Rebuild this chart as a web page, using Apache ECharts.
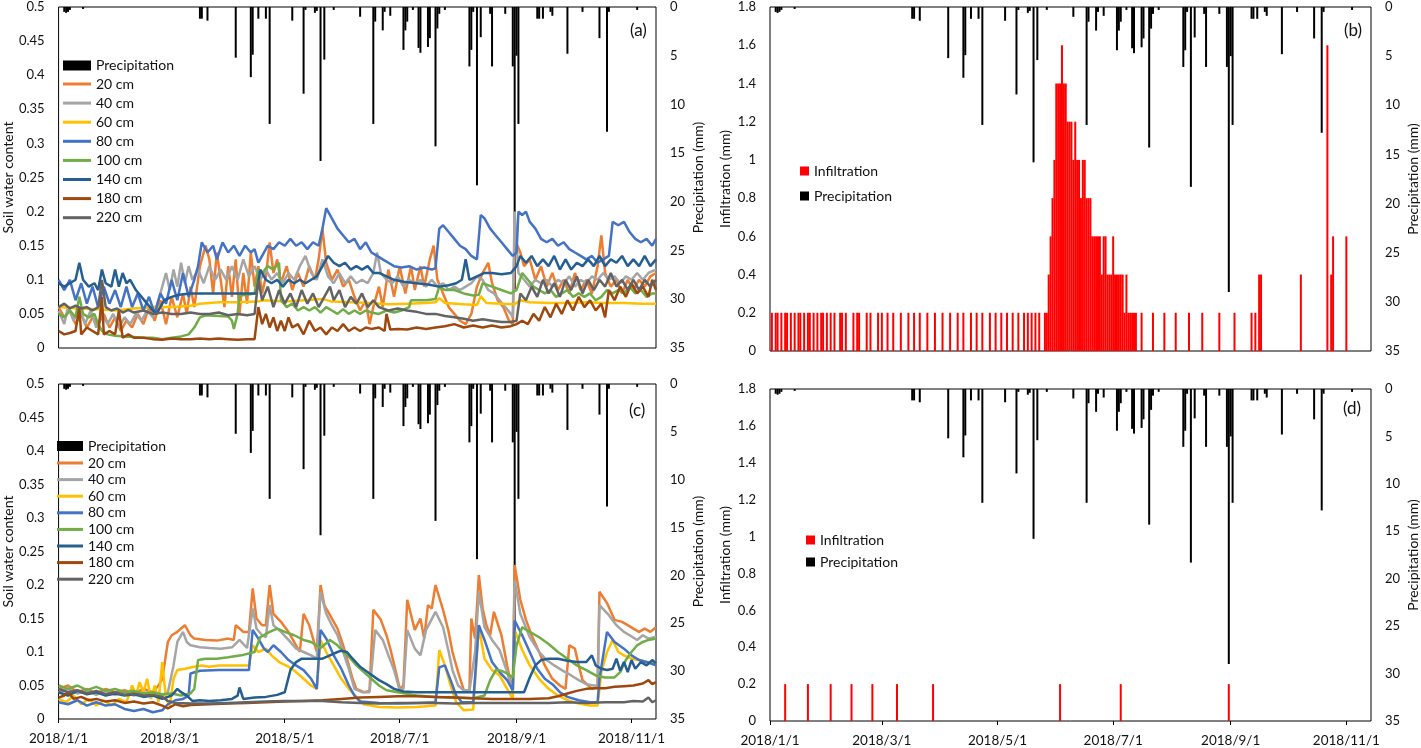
<!DOCTYPE html>
<html>
<head>
<meta charset="utf-8">
<script src="https://cdn.jsdelivr.net/npm/echarts@6/dist/echarts.min.js"></script>
<style>
  html, body { margin: 0; padding: 0; background: #fff; }
  #main { width: 1421px; height: 748px; }
</style>
</head>
<body>
<div id="main"></div>
<script type="text/javascript">
    // daily axis 2018/1/1 .. 2018/11/14
    var dates = [];
    for (var i = 0; i < 318; i++) {
        var d = new Date(2018, 0, 1 + i);
        dates.push(d.getFullYear() + '/' + (d.getMonth() + 1) + '/' + d.getDate());
    }
    var labelDays = ['2018/1/1', '2018/3/1', '2018/5/1', '2018/7/1', '2018/9/1', '2018/11/1'];

    var depthNames = ['20 cm', '40 cm', '60 cm', '80 cm', '100 cm', '140 cm', '180 cm', '220 cm'];
    var depthColors = ['#ED7D31', '#A5A5A5', '#FFC000', '#4472C4', '#70AD47', '#255E91', '#9E480E', '#636363'];

    // precipitation [day, mm]
    var precip = [[3,0.5],[4,0.6],[5,0.5],[6,0.3],[13,0.2],[75,1.2],[76,1.2],[79,1.4],[94,5.2],[102,7.2],[103,4.9],
        [106,1.2],[110,1.2],[112,12],[124,1.4],[130,8.9],[131,0.3],[136,0.6],[137,0.4],[139,15.8],[141,5.4],[146,0.3],
        [160,1.0],[167,12],[168,1.5],[172,2.4],[173,0.5],[176,0.9],[183,4.4],[184,2.4],[185,1.5],[188,0.3],[191,4.2],
        [192,4.7],[196,4.1],[197,3.2],[200,14.3],[201,2.2],[202,0.7],[205,0.3],[218,6.1],[219,4.4],[220,0.5],[222,18.3],
        [224,3.1],[229,0.7],[230,6.1],[237,0.7],[241,6.1],[242,29],[243,5.0],[244,12],[254,1.2],[255,1.2],[257,1.2],
        [261,0.5],[262,0.9],[270,4.8],[278,0.5],[287,3.2],[291,12.8],[292,0.5],[307,0.3]];

    // infiltration (b) [day, mm]
    var infilB = [[1,0.2],[3,0.2],[4,0.2],[6,0.2],[8,0.2],[9,0.2],[11,0.2],[13,0.2],[15,0.2],[16,0.2],[18,0.2],[20,0.2],
        [21,0.2],[23,0.2],[25,0.2],[27,0.2],[28,0.2],[30,0.2],[32,0.2],[34,0.2],[37,0.2],[38,0.2],[40,0.2],[44,0.2],
        [46,0.2],[47,0.2],[51,0.2],[53,0.2],[57,0.2],[59,0.2],[62,0.2],[65,0.2],[69,0.2],[73,0.2],[76,0.2],[79,0.2],
        [83,0.2],[87,0.2],[91,0.2],[95,0.2],[99,0.2],[102,0.2],[106,0.2],[109,0.2],[112,0.2],[116,0.2],[119,0.2],
        [122,0.2],[125,0.2],[128,0.2],[131,0.2],[134,0.2],[136,0.2],[138,0.2],[140,0.2],[142,0.2],[145,0.2],
        [146,0.2],[147,0.4],[148,0.6],[149,0.8],[150,1.0],[151,1.4],[152,1.4],[153,1.4],[154,1.6],[155,1.4],[156,1.4],
        [157,1.2],[158,1.2],[159,1.2],[160,1.0],[161,1.2],[162,1.0],[163,1.0],[164,0.8],[165,1.0],[166,1.0],[167,0.8],
        [168,0.8],[169,0.8],[170,0.6],[171,0.6],[172,0.6],[173,0.6],[174,0.6],[175,0.4],[176,0.6],[177,0.6],[178,0.4],
        [179,0.4],[180,0.4],[181,0.6],[182,0.4],[183,0.4],[184,0.4],[185,0.4],[186,0.4],[187,0.2],[188,0.4],[189,0.2],
        [190,0.2],[191,0.2],[192,0.2],[193,0.2],[196,0.2],[202,0.2],[208,0.2],[214,0.2],[221,0.2],[228,0.2],[237,0.2],
        [245,0.2],[254,0.2],[256,0.2],[258,0.4],[259,0.4],[280,0.4],[294,1.6],[296,0.4],[297,0.6],[304,0.6]];

    // infiltration (d) [day, mm]
    var infilD = [[8,0.2],[20,0.2],[32,0.2],[43,0.2],[54,0.2],[67,0.2],[86,0.2],[153,0.2],[185,0.2],[242,0.2]];

    // soil water content, panel (a) [day, value]
    var swA20 = [[0,0.06],[3,0.045],[6,0.055],[9,0.035],[12,0.05],[15,0.03],[18,0.045],[21,0.035],[24,0.05],[27,0.03],
        [30,0.045],[33,0.025],[36,0.04],[39,0.03],[42,0.05],[45,0.035],[48,0.06],[51,0.04],[54,0.07],[57,0.035],[60,0.075],
        [63,0.045],[66,0.08],[68,0.05],[70,0.09],[72,0.06],[75,0.12],[78,0.15],[80,0.13],[82,0.08],[84,0.14],[86,0.1],
        [88,0.06],[90,0.12],[92,0.075],[94,0.13],[96,0.05],[98,0.11],[100,0.065],[102,0.14],[104,0.09],[106,0.12],[108,0.08],
        [110,0.105],[112,0.155],[114,0.11],[116,0.13],[118,0.095],[121,0.12],[124,0.085],[127,0.11],[130,0.09],[133,0.12],
        [136,0.1],[138,0.13],[140,0.175],[142,0.125],[145,0.1],[148,0.115],[151,0.09],[154,0.1],[157,0.075],[160,0.055],
        [163,0.07],[165,0.035],[167,0.06],[170,0.09],[172,0.06],[175,0.115],[178,0.075],[181,0.12],[184,0.08],[187,0.12],
        [189,0.085],[192,0.12],[194,0.09],[197,0.13],[199,0.15],[201,0.1],[204,0.08],[207,0.06],[210,0.05],[213,0.04],
        [216,0.035],[219,0.05],[222,0.09],[225,0.11],[228,0.125],[230,0.095],[233,0.07],[236,0.06],[239,0.04],[241,0.035],
        [242,0.16],[245,0.14],[247,0.12],[250,0.13],[253,0.1],[256,0.12],[259,0.09],[262,0.11],[265,0.085],[268,0.1],
        [271,0.08],[274,0.11],[277,0.085],[280,0.1],[283,0.08],[286,0.12],[288,0.165],[290,0.11],[293,0.09],[296,0.1],
        [299,0.08],[302,0.1],[305,0.085],[308,0.1],[311,0.09],[314,0.105],[317,0.11]];
    var swA40 = [[0,0.055],[3,0.035],[5,0.06],[8,0.04],[11,0.06],[14,0.035],[17,0.055],[20,0.03],[23,0.05],[26,0.035],
        [29,0.05],[32,0.03],[35,0.045],[38,0.035],[41,0.05],[44,0.04],[47,0.055],[50,0.045],[53,0.07],[55,0.09],[57,0.11],
        [59,0.085],[61,0.115],[63,0.09],[65,0.125],[67,0.095],[69,0.12],[71,0.1],[74,0.115],[77,0.095],[80,0.12],[83,0.1],
        [86,0.115],[89,0.1],[92,0.12],[95,0.1],[98,0.13],[101,0.105],[104,0.12],[107,0.1],[110,0.115],[113,0.1],[116,0.11],
        [119,0.095],[122,0.11],[125,0.1],[128,0.12],[131,0.135],[134,0.11],[137,0.1],[140,0.13],[143,0.105],[146,0.095],
        [149,0.11],[152,0.095],[155,0.105],[158,0.095],[161,0.1],[164,0.095],[167,0.11],[169,0.14],[171,0.11],[174,0.1],
        [177,0.095],[180,0.105],[183,0.09],[186,0.1],[189,0.095],[192,0.1],[195,0.09],[198,0.1],[201,0.09],[204,0.095],
        [207,0.085],[210,0.09],[213,0.085],[216,0.09],[219,0.095],[222,0.105],[225,0.1],[228,0.085],[231,0.08],[234,0.07],
        [237,0.06],[240,0.05],[241,0.045],[242,0.2],[244,0.11],[247,0.1],[250,0.09],[253,0.1],[256,0.095],[259,0.1],
        [262,0.09],[265,0.1],[268,0.095],[271,0.105],[274,0.09],[277,0.1],[280,0.095],[283,0.105],[286,0.1],[289,0.11],
        [292,0.1],[295,0.105],[298,0.095],[301,0.105],[304,0.1],[307,0.11],[310,0.1],[313,0.11],[317,0.115]];
    var swA60 = [[0,0.06],[10,0.058],[20,0.057],[30,0.055],[40,0.058],[50,0.06],[60,0.06],[70,0.062],[75,0.065],[85,0.067],
        [95,0.067],[105,0.068],[110,0.07],[120,0.068],[130,0.07],[140,0.072],[145,0.068],[155,0.067],[165,0.066],[175,0.064],
        [185,0.065],[195,0.066],[200,0.067],[202,0.073],[205,0.066],[215,0.064],[222,0.063],[224,0.076],[227,0.066],
        [235,0.065],[242,0.064],[245,0.07],[250,0.067],[260,0.066],[270,0.066],[280,0.067],[290,0.066],[300,0.066],
        [310,0.065],[317,0.065]];
    var swA80 = [[0,0.1],[3,0.085],[6,0.1],[9,0.07],[12,0.095],[15,0.065],[18,0.09],[21,0.06],[24,0.09],[27,0.065],
        [30,0.085],[33,0.06],[36,0.09],[39,0.06],[42,0.08],[45,0.055],[48,0.075],[51,0.05],[54,0.08],[57,0.065],[60,0.1],
        [63,0.07],[66,0.11],[69,0.075],[72,0.1],[74,0.12],[76,0.155],[79,0.14],[82,0.15],[84,0.13],[87,0.155],[90,0.14],
        [93,0.15],[96,0.135],[99,0.15],[102,0.14],[104,0.145],[106,0.125],[108,0.135],[111,0.15],[114,0.145],[117,0.155],
        [120,0.15],[123,0.16],[126,0.15],[129,0.155],[132,0.145],[135,0.155],[138,0.15],[140,0.175],[142,0.205],[145,0.19],
        [148,0.175],[151,0.165],[154,0.155],[157,0.16],[160,0.145],[163,0.155],[166,0.14],[169,0.135],[172,0.13],[175,0.125],
        [178,0.12],[182,0.118],[186,0.12],[190,0.115],[194,0.118],[198,0.115],[200,0.117],[202,0.175],[204,0.18],[207,0.17],
        [210,0.16],[213,0.15],[216,0.145],[219,0.135],[222,0.13],[224,0.195],[226,0.19],[229,0.175],[232,0.165],[235,0.155],
        [238,0.145],[241,0.135],[243,0.14],[244,0.2],[246,0.195],[248,0.2],[250,0.185],[253,0.175],[256,0.16],[259,0.155],
        [262,0.16],[265,0.15],[268,0.155],[271,0.145],[274,0.14],[277,0.135],[280,0.13],[283,0.135],[286,0.125],[289,0.13],
        [292,0.135],[294,0.185],[297,0.18],[300,0.185],[303,0.17],[306,0.16],[309,0.155],[312,0.16],[315,0.15],[317,0.16]];
    var swA100 = [[0,0.05],[3,0.045],[6,0.055],[9,0.045],[11,0.075],[13,0.05],[16,0.045],[19,0.05],[21,0.035],[23,0.025],
        [26,0.02],[30,0.018],[35,0.017],[40,0.016],[45,0.015],[50,0.015],[55,0.013],[60,0.015],[65,0.017],[69,0.02],[72,0.03],
        [75,0.045],[78,0.048],[85,0.047],[90,0.046],[92,0.04],[93,0.028],[95,0.05],[96,0.077],[100,0.078],[104,0.08],
        [106,0.115],[108,0.11],[111,0.12],[114,0.115],[117,0.125],[118,0.07],[121,0.06],[124,0.065],[127,0.055],[130,0.06],
        [133,0.055],[136,0.06],[139,0.052],[142,0.06],[145,0.055],[148,0.05],[151,0.057],[154,0.05],[157,0.055],[160,0.05],
        [163,0.055],[166,0.052],[170,0.05],[174,0.055],[178,0.052],[182,0.055],[186,0.06],[187,0.07],[195,0.07],[200,0.072],
        [202,0.09],[205,0.085],[210,0.085],[215,0.08],[220,0.077],[223,0.078],[225,0.095],[230,0.09],[235,0.085],[240,0.08],
        [243,0.085],[246,0.11],[249,0.1],[252,0.09],[255,0.085],[258,0.08],[261,0.085],[264,0.075],[267,0.08],[270,0.085],
        [273,0.075],[276,0.08],[279,0.075],[282,0.08],[285,0.07],[288,0.075],[291,0.085],[294,0.08],[297,0.085],[300,0.08],
        [303,0.09],[306,0.08],[309,0.085],[312,0.075],[315,0.08],[317,0.08]];
    var swA140 = [[0,0.095],[3,0.09],[6,0.095],[9,0.1],[11,0.125],[13,0.1],[16,0.09],[19,0.095],[21,0.085],[23,0.115],
        [25,0.095],[28,0.09],[30,0.115],[32,0.09],[34,0.11],[36,0.095],[38,0.1],[41,0.085],[44,0.075],[47,0.065],[50,0.055],
        [52,0.05],[54,0.06],[56,0.07],[60,0.075],[64,0.078],[70,0.08],[80,0.08],[90,0.08],[100,0.08],[105,0.08],[107,0.115],
        [110,0.1],[113,0.095],[116,0.1],[119,0.09],[122,0.1],[125,0.095],[128,0.1],[131,0.095],[134,0.1],[137,0.105],
        [140,0.12],[143,0.135],[146,0.125],[149,0.12],[152,0.125],[155,0.115],[158,0.12],[161,0.115],[164,0.12],[167,0.11],
        [170,0.11],[174,0.105],[178,0.1],[183,0.097],[190,0.095],[196,0.093],[202,0.09],[207,0.092],[211,0.095],[214,0.1],
        [216,0.13],[218,0.1],[222,0.105],[226,0.11],[230,0.11],[235,0.108],[240,0.11],[243,0.12],[245,0.135],[248,0.125],
        [251,0.135],[254,0.12],[257,0.13],[260,0.12],[263,0.135],[266,0.115],[269,0.13],[272,0.115],[275,0.125],[278,0.12],
        [281,0.13],[284,0.12],[287,0.135],[290,0.12],[293,0.13],[296,0.125],[299,0.135],[302,0.12],[305,0.13],[308,0.12],
        [311,0.135],[314,0.12],[317,0.13]];
    var swA180 = [[0,0.025],[3,0.02],[6,0.022],[9,0.025],[11,0.06],[12,0.02],[15,0.03],[18,0.025],[21,0.02],[23,0.075],
        [24,0.02],[27,0.025],[30,0.02],[32,0.055],[34,0.015],[37,0.02],[40,0.015],[45,0.015],[50,0.013],[55,0.012],[60,0.014],
        [65,0.013],[70,0.013],[75,0.014],[80,0.013],[85,0.014],[90,0.013],[95,0.012],[100,0.013],[104,0.013],[106,0.06],
        [108,0.035],[110,0.05],[112,0.03],[114,0.045],[116,0.025],[118,0.04],[120,0.025],[122,0.045],[124,0.03],[127,0.035],
        [130,0.02],[133,0.04],[136,0.025],[139,0.03],[142,0.02],[145,0.03],[148,0.025],[151,0.035],[154,0.025],[157,0.03],
        [160,0.025],[163,0.03],[166,0.028],[170,0.03],[173,0.025],[174,0.05],[176,0.027],[180,0.028],[185,0.027],[190,0.03],
        [195,0.028],[200,0.03],[205,0.032],[210,0.035],[215,0.03],[220,0.033],[225,0.03],[230,0.033],[235,0.03],[240,0.032],
        [243,0.035],[246,0.04],[249,0.035],[252,0.05],[255,0.04],[258,0.06],[261,0.045],[264,0.065],[267,0.05],[270,0.07],
        [273,0.055],[276,0.075],[279,0.06],[282,0.07],[285,0.055],[288,0.065],[290,0.045],[292,0.085],[295,0.07],[298,0.09],
        [301,0.075],[304,0.095],[307,0.08],[310,0.09],[313,0.075],[315,0.1],[317,0.085]];
    var swA220 = [[0,0.06],[3,0.065],[6,0.058],[9,0.062],[12,0.058],[15,0.06],[18,0.055],[21,0.06],[23,0.1],[25,0.06],
        [28,0.055],[31,0.058],[34,0.052],[37,0.056],[40,0.052],[45,0.055],[50,0.05],[55,0.052],[60,0.05],[65,0.05],[70,0.052],
        [75,0.05],[80,0.05],[85,0.052],[90,0.048],[95,0.05],[100,0.048],[104,0.05],[106,0.1],[108,0.07],[111,0.09],[114,0.06],
        [117,0.085],[120,0.065],[123,0.08],[126,0.06],[129,0.085],[132,0.065],[135,0.08],[138,0.06],[141,0.075],[144,0.09],
        [146,0.07],[149,0.085],[152,0.06],[155,0.075],[158,0.065],[161,0.08],[164,0.06],[167,0.07],[170,0.06],[175,0.055],
        [180,0.058],[185,0.055],[190,0.053],[195,0.05],[200,0.05],[205,0.047],[210,0.045],[215,0.043],[220,0.04],[225,0.042],
        [230,0.04],[235,0.038],[240,0.038],[243,0.04],[245,0.08],[248,0.07],[251,0.09],[254,0.075],[257,0.1],[260,0.08],
        [263,0.095],[266,0.075],[269,0.1],[272,0.085],[275,0.105],[278,0.08],[281,0.1],[284,0.085],[287,0.1],[290,0.09],
        [293,0.11],[296,0.09],[299,0.1],[302,0.085],[305,0.1],[308,0.085],[311,0.1],[314,0.09],[317,0.1]];

    // soil water content, panel (c) [day, value]
    var swC20 = [[0,0.045],[5,0.05],[10,0.04],[15,0.045],[20,0.038],[25,0.045],[30,0.04],[35,0.043],[40,0.038],[45,0.045],
        [50,0.04],[53,0.05],[55,0.06],[58,0.115],[60,0.125],[63,0.13],[65,0.135],[67,0.14],[70,0.125],[72,0.12],[78,0.118],
        [84,0.117],[90,0.12],[93,0.118],[94,0.14],[96,0.135],[98,0.13],[101,0.13],[103,0.195],[105,0.15],[108,0.14],
        [110,0.14],[112,0.2],[114,0.157],[118,0.145],[122,0.13],[126,0.11],[128,0.1],[130,0.157],[133,0.14],[136,0.11],
        [137,0.1],[139,0.2],[141,0.17],[144,0.155],[148,0.135],[151,0.11],[153,0.09],[156,0.06],[158,0.045],[162,0.04],
        [165,0.042],[167,0.163],[171,0.148],[174,0.125],[176,0.105],[179,0.07],[181,0.045],[183,0.05],[185,0.178],
        [189,0.133],[192,0.15],[194,0.12],[196,0.17],[198,0.165],[200,0.2],[204,0.163],[207,0.13],[209,0.1],[212,0.07],
        [215,0.043],[218,0.042],[219,0.15],[221,0.12],[223,0.215],[225,0.165],[227,0.14],[229,0.125],[231,0.16],[235,0.125],
        [238,0.08],[241,0.04],[242,0.23],[245,0.178],[248,0.148],[251,0.125],[255,0.1],[258,0.08],[262,0.06],[266,0.05],
        [269,0.045],[271,0.11],[274,0.105],[276,0.08],[278,0.058],[283,0.045],[286,0.048],[287,0.19],[291,0.173],[295,0.148],
        [299,0.145],[302,0.14],[305,0.135],[308,0.13],[311,0.135],[314,0.13],[317,0.137]];
    var swC40 = [[0,0.04],[5,0.045],[10,0.038],[15,0.042],[20,0.036],[25,0.042],[30,0.036],[35,0.04],[40,0.035],[45,0.04],
        [50,0.037],[55,0.035],[58,0.04],[61,0.08],[63,0.115],[66,0.13],[68,0.115],[70,0.11],[75,0.107],[80,0.106],[86,0.105],
        [92,0.107],[96,0.118],[100,0.106],[103,0.165],[105,0.135],[108,0.125],[110,0.122],[112,0.17],[114,0.14],[118,0.13],
        [122,0.118],[126,0.105],[130,0.1],[134,0.095],[137,0.09],[139,0.19],[142,0.157],[145,0.14],[148,0.125],[151,0.1],
        [154,0.075],[157,0.045],[161,0.04],[165,0.04],[168,0.133],[172,0.118],[175,0.095],[178,0.073],[181,0.043],[183,0.045],
        [185,0.133],[189,0.105],[192,0.095],[195,0.133],[200,0.16],[204,0.137],[207,0.1],[209,0.073],[212,0.05],[215,0.043],
        [218,0.042],[221,0.1],[223,0.19],[226,0.137],[230,0.118],[234,0.103],[238,0.07],[241,0.04],[242,0.207],[245,0.157],
        [250,0.122],[255,0.1],[259,0.088],[263,0.08],[267,0.073],[272,0.065],[276,0.058],[280,0.052],[284,0.05],[286,0.05],
        [287,0.17],[292,0.155],[296,0.14],[300,0.13],[303,0.125],[307,0.118],[310,0.125],[313,0.12],[317,0.123]];
    var swC60 = [[0,0.03],[4,0.025],[8,0.035],[12,0.022],[16,0.03],[20,0.02],[24,0.028],[28,0.02],[32,0.03],[36,0.025],
        [39,0.05],[41,0.035],[43,0.055],[45,0.04],[47,0.06],[49,0.03],[51,0.05],[53,0.025],[55,0.085],[57,0.03],[59,0.02],
        [61,0.06],[63,0.073],[67,0.075],[72,0.078],[76,0.08],[80,0.078],[85,0.08],[90,0.08],[96,0.08],[101,0.08],[103,0.11],
        [106,0.1],[110,0.105],[113,0.095],[117,0.085],[122,0.078],[126,0.07],[130,0.06],[134,0.05],[137,0.045],[139,0.118],
        [142,0.1],[146,0.08],[150,0.06],[154,0.045],[158,0.033],[162,0.022],[170,0.018],[180,0.017],[190,0.018],[200,0.02],
        [202,0.103],[205,0.08],[208,0.05],[211,0.025],[215,0.013],[220,0.014],[223,0.137],[226,0.09],[230,0.073],[234,0.065],
        [238,0.045],[241,0.03],[242,0.133],[246,0.103],[250,0.08],[255,0.06],[260,0.045],[265,0.035],[270,0.028],[276,0.023],
        [282,0.02],[286,0.02],[288,0.07],[291,0.1],[294,0.118],[297,0.1],[300,0.095],[304,0.09],[308,0.088],[312,0.085],
        [317,0.082]];
    var swC80 = [[0,0.025],[5,0.022],[10,0.028],[15,0.02],[20,0.025],[25,0.02],[30,0.022],[35,0.015],[40,0.012],[45,0.015],
        [50,0.01],[55,0.013],[58,0.022],[62,0.028],[66,0.03],[69,0.035],[70,0.068],[75,0.072],[85,0.073],[95,0.073],
        [101,0.073],[103,0.133],[106,0.12],[109,0.105],[111,0.1],[114,0.11],[118,0.1],[122,0.088],[126,0.08],[130,0.073],
        [134,0.06],[137,0.045],[139,0.133],[142,0.12],[146,0.095],[150,0.075],[154,0.05],[157,0.035],[160,0.026],[170,0.024],
        [180,0.023],[190,0.024],[200,0.025],[202,0.077],[205,0.08],[208,0.058],[211,0.035],[214,0.025],[220,0.025],
        [223,0.14],[226,0.118],[230,0.085],[234,0.07],[238,0.058],[241,0.043],[242,0.147],[246,0.125],[250,0.1],[254,0.075],
        [258,0.06],[262,0.052],[266,0.04],[270,0.033],[276,0.028],[282,0.025],[286,0.025],[287,0.06],[291,0.13],[295,0.115],
        [300,0.105],[304,0.095],[308,0.088],[312,0.085],[317,0.08]];
    var swC100 = [[0,0.05],[5,0.045],[10,0.05],[15,0.043],[20,0.048],[25,0.042],[30,0.045],[35,0.04],[40,0.042],[45,0.038],
        [50,0.04],[55,0.037],[60,0.038],[65,0.035],[70,0.038],[72,0.045],[74,0.088],[78,0.09],[84,0.09],[90,0.092],[97,0.095],
        [104,0.1],[107,0.122],[112,0.13],[116,0.135],[120,0.13],[125,0.125],[130,0.118],[134,0.115],[139,0.106],[144,0.118],
        [148,0.11],[152,0.098],[155,0.09],[158,0.08],[162,0.07],[166,0.06],[170,0.05],[174,0.043],[180,0.04],[190,0.035],
        [200,0.033],[210,0.032],[220,0.031],[226,0.035],[229,0.058],[232,0.073],[235,0.072],[238,0.068],[241,0.062],
        [243,0.11],[246,0.137],[250,0.13],[255,0.122],[260,0.112],[265,0.1],[270,0.09],[275,0.08],[280,0.073],[285,0.065],
        [290,0.062],[295,0.062],[298,0.07],[301,0.088],[304,0.1],[307,0.11],[310,0.115],[313,0.118],[317,0.12]];
    var swC140 = [[0,0.04],[5,0.035],[10,0.042],[15,0.037],[20,0.04],[25,0.035],[30,0.038],[35,0.035],[40,0.037],[45,0.033],
        [50,0.035],[55,0.03],[60,0.035],[63,0.045],[65,0.04],[68,0.035],[71,0.027],[75,0.028],[80,0.027],[86,0.028],[92,0.03],
        [95,0.035],[96,0.047],[98,0.03],[104,0.032],[110,0.033],[116,0.036],[120,0.04],[123,0.073],[126,0.085],[129,0.09],
        [133,0.09],[137,0.09],[140,0.09],[144,0.095],[148,0.1],[150,0.102],[153,0.1],[156,0.09],[160,0.078],[165,0.068],
        [170,0.058],[174,0.052],[178,0.045],[183,0.041],[190,0.04],[200,0.04],[210,0.04],[220,0.04],[230,0.04],[240,0.04],
        [247,0.04],[250,0.062],[253,0.08],[256,0.088],[260,0.09],[265,0.09],[270,0.087],[275,0.085],[280,0.085],[283,0.095],
        [285,0.08],[288,0.075],[291,0.073],[294,0.075],[296,0.09],[298,0.072],[300,0.085],[302,0.07],[304,0.088],[306,0.075],
        [309,0.085],[312,0.08],[315,0.088],[317,0.083]];
    var swC180 = [[0,0.032],[3,0.035],[5,0.04],[8,0.03],[12,0.033],[16,0.028],[20,0.03],[25,0.026],[30,0.028],[35,0.024],
        [40,0.026],[45,0.023],[50,0.025],[55,0.02],[58,0.016],[62,0.022],[66,0.019],[70,0.021],[80,0.022],[90,0.023],
        [100,0.024],[110,0.025],[120,0.026],[130,0.027],[140,0.028],[150,0.03],[160,0.032],[170,0.033],[180,0.034],
        [190,0.034],[200,0.033],[210,0.032],[220,0.031],[230,0.03],[240,0.03],[250,0.03],[260,0.031],[265,0.034],[270,0.038],
        [275,0.042],[280,0.045],[285,0.046],[290,0.046],[295,0.048],[300,0.049],[305,0.05],[310,0.053],[313,0.058],
        [315,0.052],[317,0.055]];
    var swC220 = [[0,0.045],[5,0.04],[10,0.043],[15,0.038],[20,0.042],[25,0.037],[30,0.04],[35,0.036],[40,0.038],[45,0.035],
        [50,0.036],[55,0.033],[58,0.027],[62,0.024],[70,0.023],[80,0.023],[90,0.024],[100,0.025],[110,0.026],[120,0.027],
        [130,0.027],[140,0.027],[150,0.025],[160,0.024],[170,0.023],[180,0.024],[190,0.024],[200,0.024],[210,0.023],
        [220,0.024],[230,0.024],[240,0.024],[250,0.024],[260,0.024],[270,0.025],[280,0.024],[290,0.025],[300,0.025],
        [305,0.027],[310,0.026],[313,0.032],[315,0.025],[317,0.028]];

    var swA = [swA20, swA40, swA60, swA80, swA100, swA140, swA180, swA220];
    var swC = [swC20, swC40, swC60, swC80, swC100, swC140, swC180, swC220];

    var FONT = 'Lato';
    var txt = { fontFamily: FONT, fontSize: 14, color: '#111' };

    var myChart = echarts.init(document.getElementById('main'));

    function showDate(index, value) {
        return labelDays.indexOf(value) >= 0;
    }

    function xAxisFor(gridIndex, withLabels) {
        return {
            type: 'category', gridIndex: gridIndex, data: dates, boundaryGap: false,
            axisLine: { show: false },
            axisTick: withLabels ? { show: true, interval: showDate, length: 4, lineStyle: { color: '#000' } } : { show: false },
            axisLabel: withLabels ? { show: true, interval: showDate, margin: 13, fontFamily: FONT, fontSize: 13.5, color: '#111' } : { show: false },
            splitLine: { show: false }
        };
    }

    function leftAxis(gridIndex, max, step, name) {
        return {
            type: 'value', gridIndex: gridIndex, min: 0, max: max, interval: step, position: 'left',
            name: name, nameLocation: 'middle', nameRotate: 90, nameGap: 38, nameTextStyle: txt,
            axisLine: { show: false }, axisTick: { show: false }, splitLine: { show: false },
            axisLabel: { margin: 14, fontFamily: FONT, fontSize: 13, color: '#111' }
        };
    }

    function rightAxis(gridIndex) {
        return {
            type: 'value', gridIndex: gridIndex, min: 0, max: 35, interval: 5, position: 'right', inverse: true,
            name: 'Precipitation (mm)', nameLocation: 'middle', nameRotate: 90, nameGap: 35, nameTextStyle: txt,
            axisLine: { show: false }, axisTick: { show: false }, splitLine: { show: false },
            axisLabel: { margin: 14, fontFamily: FONT, fontSize: 13, color: '#111' }
        };
    }

    function precipSeries(xi, yi) {
        return {
            name: 'Precipitation', type: 'bar', xAxisIndex: xi, yAxisIndex: yi, data: precip,
            barWidth: 2, barGap: '-100%', itemStyle: { color: '#000' }, z: 1
        };
    }

    var seriesList = [];
    seriesList.push(precipSeries(0, 1));
    depthNames.forEach(function (n, k) {
        seriesList.push({ name: n, type: 'line', xAxisIndex: 0, yAxisIndex: 0, data: swA[k], symbol: 'none',
            lineStyle: { width: 2.5, color: depthColors[k] }, itemStyle: { color: depthColors[k] }, z: 2 });
    });
    seriesList.push(precipSeries(1, 3));
    seriesList.push({ name: 'Infiltration', type: 'bar', xAxisIndex: 1, yAxisIndex: 2, data: infilB,
        barWidth: 2, barGap: '-100%', itemStyle: { color: '#FF0000' }, z: 2 });
    seriesList.push(precipSeries(2, 5));
    depthNames.forEach(function (n, k) {
        seriesList.push({ name: n, type: 'line', xAxisIndex: 2, yAxisIndex: 4, data: swC[k], symbol: 'none',
            lineStyle: { width: 2.5, color: depthColors[k] }, itemStyle: { color: depthColors[k] }, z: 2 });
    });
    seriesList.push(precipSeries(3, 7));
    seriesList.push({ name: 'Infiltration', type: 'bar', xAxisIndex: 3, yAxisIndex: 6, data: infilD,
        barWidth: 2, barGap: '-100%', itemStyle: { color: '#FF0000' }, z: 2 });

    var legText = { fontFamily: FONT, fontSize: 14, color: '#111', lineHeight: 14 };
    function legendBox(names, left, top, w, h, gap) {
        return { data: names, orient: 'vertical', left: left, top: top, padding: 0, icon: 'rect',
            itemWidth: w, itemHeight: h, itemGap: gap, textStyle: legText, selectedMode: false };
    }

    var option = {
        animation: false,
        backgroundColor: '#fff',
        grid: [
            { left: 53, top: 7, width: 603, height: 341, show: true, borderColor: '#000', borderWidth: 1 },
            { left: 770, top: 7, width: 601, height: 344, show: true, borderColor: '#000', borderWidth: 1 },
            { left: 53, top: 384, width: 603, height: 335, show: true, borderColor: '#000', borderWidth: 1 },
            { left: 770, top: 389, width: 601, height: 332, show: true, borderColor: '#000', borderWidth: 1 }
        ],
        xAxis: [xAxisFor(0, false), xAxisFor(1, false), xAxisFor(2, true), xAxisFor(3, true)],
        yAxis: [
            leftAxis(0, 0.5, 0.05, 'Soil water content'), rightAxis(0),
            leftAxis(1, 1.8, 0.2, 'Infiltration (mm)'), rightAxis(1),
            leftAxis(2, 0.5, 0.05, 'Soil water content'), rightAxis(2),
            leftAxis(3, 1.8, 0.2, 'Infiltration (mm)'), rightAxis(3)
        ],
        legend: [
            legendBox(['Precipitation'], 63, 58.5, 28, 10, 5),
            legendBox(depthNames, 63, 77, 28, 3, 5.1),
            legendBox(['Precipitation'], 57, 439, 26, 10, 3),
            legendBox(depthNames, 57, 456, 26, 3, 2.6),
            legendBox(['Infiltration', 'Precipitation'], 800, 164, 9, 9, 11),
            legendBox(['Infiltration', 'Precipitation'], 806, 533, 9, 9, 8)
        ],
        graphic: [
            { type: 'text', left: 630, top: 22, style: { text: '(a)', font: '17px Lato', fill: '#111' } },
            { type: 'text', left: 1344, top: 22, style: { text: '(b)', font: '17px Lato', fill: '#111' } },
            { type: 'text', left: 629, top: 402, style: { text: '(c)', font: '17px Lato', fill: '#111' } },
            { type: 'text', left: 1343, top: 400, style: { text: '(d)', font: '17px Lato', fill: '#111' } }
        ],
        series: seriesList
    };

    myChart.setOption(option);
</script>
</body>
</html>
